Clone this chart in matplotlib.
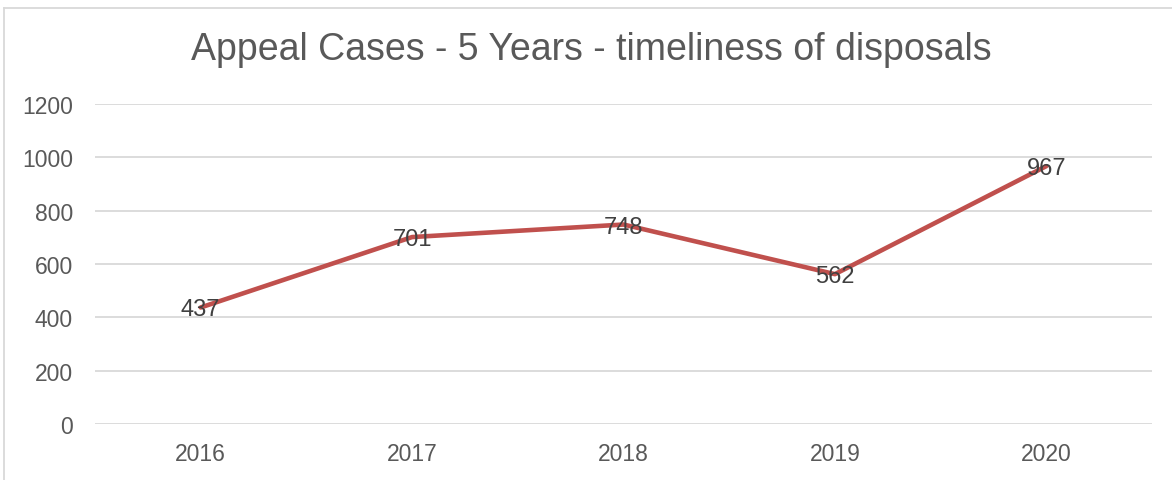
import matplotlib
matplotlib.use("Agg")
import matplotlib.pyplot as plt
from matplotlib.lines import Line2D
from matplotlib.transforms import offset_copy

years = ["2016", "2017", "2018", "2019", "2020"]
values = [437, 701, 748, 562, 967]
yticks = [0, 200, 400, 600, 800, 1000, 1200]
title = "Appeal Cases - 5 Years - timeliness of disposals"

plt.rcParams['font.family'] = ['Liberation Sans', 'DejaVu Sans']

W, H = 1172, 481
fig = plt.figure(figsize=(W / 100, H / 100), dpi=100)
ax = fig.add_axes([95 / W, 1 - 425 / H, (1152 - 95) / W, (425 - 105) / H])

x = list(range(len(years)))
ax.plot(x, values, color="#C0504D", linewidth=3.3, solid_capstyle="round", zorder=3)
lbl_tr = offset_copy(ax.transData, fig=fig, x=0, y=-2, units="dots")
for xi, v in zip(x, values):
    ax.text(xi, v, str(v), ha="center", va="center", fontsize=17, color="#404040",
            zorder=4, transform=lbl_tr)

ax.set_xlim(-0.5, len(years) - 0.5)
ax.set_ylim(0, 1200)
ax.set_yticks(yticks)
ax.set_yticklabels([str(t) for t in yticks])
ax.set_xticks(x)
ax.set_xticklabels(years)
ax.grid(axis="y", color="#D9D9D9", linewidth=1.3)
ax.set_axisbelow(True)
for s in ax.spines.values():
    s.set_visible(False)
ax.tick_params(axis="both", length=0, labelsize=16.5, labelcolor="#595959")
ax.tick_params(axis="y", pad=16)
ax.tick_params(axis="x", pad=13)

fig.text(591 / W, 1 - 50 / H, title, ha="center", va="center", fontsize=27, color="#595959")

fig.add_artist(Line2D([3.5 / W, 3.5 / W], [0, 1 - 8.5 / H], color="#D9D9D9", linewidth=1.3, transform=fig.transFigure))
fig.add_artist(Line2D([3.5 / W, 1], [1 - 8.5 / H, 1 - 8.5 / H], color="#D9D9D9", linewidth=1.3, transform=fig.transFigure))

fig.savefig("out.png", dpi=100)
